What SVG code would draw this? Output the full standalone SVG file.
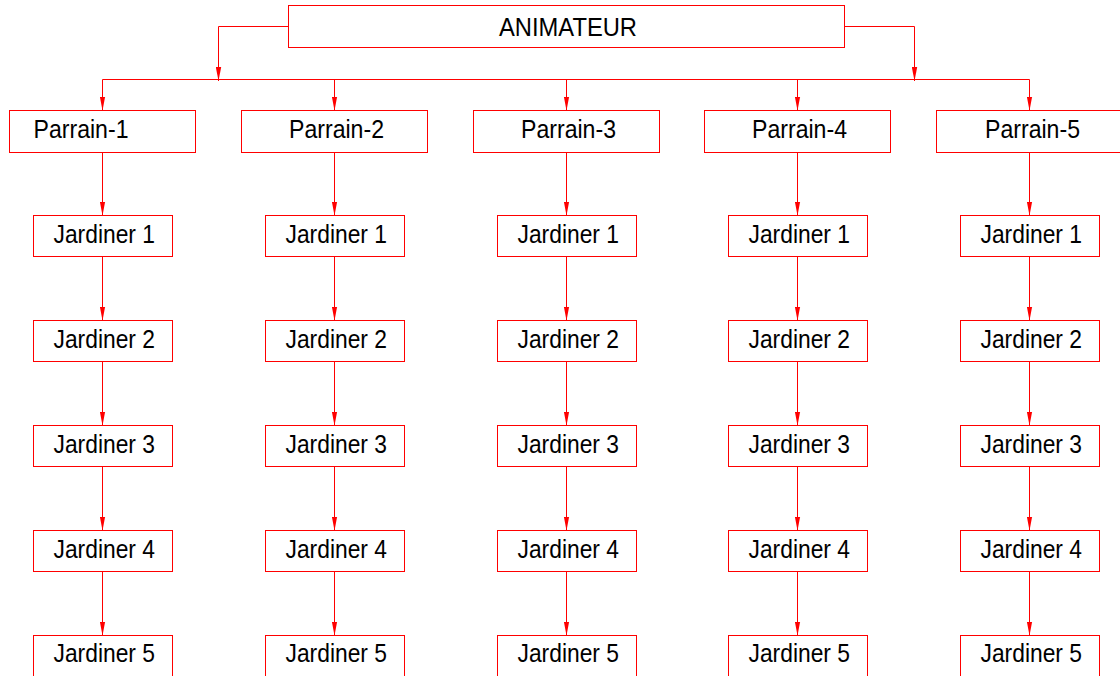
<svg xmlns="http://www.w3.org/2000/svg" width="1120" height="676" viewBox="0 0 1120 676">
<style>
.box{fill:#fff;stroke:#ff0000;stroke-width:1}
.ln{fill:none;stroke:#ff0000;stroke-width:1}
.arr{fill:none;stroke:#ff0000;stroke-width:1;marker-end:url(#ah)}
text{font-family:"Liberation Sans",Arial,sans-serif;font-size:25.5px;fill:#000}
</style>
<defs>
<marker id="ah" markerUnits="userSpaceOnUse" markerWidth="14" markerHeight="6" viewBox="0 0 13 5" refX="13" refY="2.5" orient="auto">
<path d="M0,0 L13,2.5 L0,5 z" fill="#ff0000"/>
</marker>
</defs>
<rect width="1120" height="676" fill="#fff"/>
<g id="connectors">
<polyline class="arr" points="288.5,26.5 218.5,26.5 218.5,81"/>
<polyline class="arr" points="844.5,26.5 914.5,26.5 914.5,81"/>
<line class="ln" x1="102.5" y1="79.5" x2="1029.5" y2="79.5"/>
<line class="arr" x1="102.5" y1="79.5" x2="102.5" y2="110.5"/>
<line class="arr" x1="334.5" y1="79.5" x2="334.5" y2="110.5"/>
<line class="arr" x1="566.5" y1="79.5" x2="566.5" y2="110.5"/>
<line class="arr" x1="797.5" y1="79.5" x2="797.5" y2="110.5"/>
<line class="arr" x1="1029.5" y1="79.5" x2="1029.5" y2="110.5"/>
<line class="arr" x1="102.5" y1="152.5" x2="102.5" y2="215.5"/>
<line class="arr" x1="102.5" y1="256.5" x2="102.5" y2="320.5"/>
<line class="arr" x1="102.5" y1="361.5" x2="102.5" y2="425.5"/>
<line class="arr" x1="102.5" y1="466.5" x2="102.5" y2="530.5"/>
<line class="arr" x1="102.5" y1="571.5" x2="102.5" y2="635.5"/>
<line class="arr" x1="334.5" y1="152.5" x2="334.5" y2="215.5"/>
<line class="arr" x1="334.5" y1="256.5" x2="334.5" y2="320.5"/>
<line class="arr" x1="334.5" y1="361.5" x2="334.5" y2="425.5"/>
<line class="arr" x1="334.5" y1="466.5" x2="334.5" y2="530.5"/>
<line class="arr" x1="334.5" y1="571.5" x2="334.5" y2="635.5"/>
<line class="arr" x1="566.5" y1="152.5" x2="566.5" y2="215.5"/>
<line class="arr" x1="566.5" y1="256.5" x2="566.5" y2="320.5"/>
<line class="arr" x1="566.5" y1="361.5" x2="566.5" y2="425.5"/>
<line class="arr" x1="566.5" y1="466.5" x2="566.5" y2="530.5"/>
<line class="arr" x1="566.5" y1="571.5" x2="566.5" y2="635.5"/>
<line class="arr" x1="797.5" y1="152.5" x2="797.5" y2="215.5"/>
<line class="arr" x1="797.5" y1="256.5" x2="797.5" y2="320.5"/>
<line class="arr" x1="797.5" y1="361.5" x2="797.5" y2="425.5"/>
<line class="arr" x1="797.5" y1="466.5" x2="797.5" y2="530.5"/>
<line class="arr" x1="797.5" y1="571.5" x2="797.5" y2="635.5"/>
<line class="arr" x1="1029.5" y1="152.5" x2="1029.5" y2="215.5"/>
<line class="arr" x1="1029.5" y1="256.5" x2="1029.5" y2="320.5"/>
<line class="arr" x1="1029.5" y1="361.5" x2="1029.5" y2="425.5"/>
<line class="arr" x1="1029.5" y1="466.5" x2="1029.5" y2="530.5"/>
<line class="arr" x1="1029.5" y1="571.5" x2="1029.5" y2="635.5"/>
</g>
<g id="animateur"><rect class="box" x="288.5" y="5.5" width="556" height="42"/><text x="499" y="36" textLength="138" lengthAdjust="spacingAndGlyphs">ANIMATEUR</text></g>
<g id="parrain1"><rect class="box" x="9.5" y="110.5" width="186" height="42"/><text x="33.5" y="138.3" textLength="95" lengthAdjust="spacingAndGlyphs">Parrain-1</text></g>
<g id="parrain2"><rect class="box" x="241.5" y="110.5" width="186" height="42"/><text x="289" y="138.3" textLength="95" lengthAdjust="spacingAndGlyphs">Parrain-2</text></g>
<g id="parrain3"><rect class="box" x="473.5" y="110.5" width="186" height="42"/><text x="521" y="138.3" textLength="95" lengthAdjust="spacingAndGlyphs">Parrain-3</text></g>
<g id="parrain4"><rect class="box" x="704.5" y="110.5" width="186" height="42"/><text x="752" y="138.3" textLength="95" lengthAdjust="spacingAndGlyphs">Parrain-4</text></g>
<g id="parrain5"><rect class="box" x="936.5" y="110.5" width="186" height="42"/><text x="985" y="138.3" textLength="95" lengthAdjust="spacingAndGlyphs">Parrain-5</text></g>
<g id="c1j1"><rect class="box" x="33.5" y="215.5" width="139" height="41"/><text x="53.5" y="243" textLength="101.5" lengthAdjust="spacingAndGlyphs">Jardiner 1</text></g>
<g id="c1j2"><rect class="box" x="33.5" y="320.5" width="139" height="41"/><text x="53.5" y="348" textLength="101.5" lengthAdjust="spacingAndGlyphs">Jardiner 2</text></g>
<g id="c1j3"><rect class="box" x="33.5" y="425.5" width="139" height="41"/><text x="53.5" y="453" textLength="101.5" lengthAdjust="spacingAndGlyphs">Jardiner 3</text></g>
<g id="c1j4"><rect class="box" x="33.5" y="530.5" width="139" height="41"/><text x="53.5" y="558" textLength="101.5" lengthAdjust="spacingAndGlyphs">Jardiner 4</text></g>
<g id="c1j5"><rect class="box" x="33.5" y="635.5" width="139" height="41"/><text x="53.5" y="662" textLength="101.5" lengthAdjust="spacingAndGlyphs">Jardiner 5</text></g>
<g id="c2j1"><rect class="box" x="265.5" y="215.5" width="139" height="41"/><text x="285.5" y="243" textLength="101.5" lengthAdjust="spacingAndGlyphs">Jardiner 1</text></g>
<g id="c2j2"><rect class="box" x="265.5" y="320.5" width="139" height="41"/><text x="285.5" y="348" textLength="101.5" lengthAdjust="spacingAndGlyphs">Jardiner 2</text></g>
<g id="c2j3"><rect class="box" x="265.5" y="425.5" width="139" height="41"/><text x="285.5" y="453" textLength="101.5" lengthAdjust="spacingAndGlyphs">Jardiner 3</text></g>
<g id="c2j4"><rect class="box" x="265.5" y="530.5" width="139" height="41"/><text x="285.5" y="558" textLength="101.5" lengthAdjust="spacingAndGlyphs">Jardiner 4</text></g>
<g id="c2j5"><rect class="box" x="265.5" y="635.5" width="139" height="41"/><text x="285.5" y="662" textLength="101.5" lengthAdjust="spacingAndGlyphs">Jardiner 5</text></g>
<g id="c3j1"><rect class="box" x="497.5" y="215.5" width="139" height="41"/><text x="517.5" y="243" textLength="101.5" lengthAdjust="spacingAndGlyphs">Jardiner 1</text></g>
<g id="c3j2"><rect class="box" x="497.5" y="320.5" width="139" height="41"/><text x="517.5" y="348" textLength="101.5" lengthAdjust="spacingAndGlyphs">Jardiner 2</text></g>
<g id="c3j3"><rect class="box" x="497.5" y="425.5" width="139" height="41"/><text x="517.5" y="453" textLength="101.5" lengthAdjust="spacingAndGlyphs">Jardiner 3</text></g>
<g id="c3j4"><rect class="box" x="497.5" y="530.5" width="139" height="41"/><text x="517.5" y="558" textLength="101.5" lengthAdjust="spacingAndGlyphs">Jardiner 4</text></g>
<g id="c3j5"><rect class="box" x="497.5" y="635.5" width="139" height="41"/><text x="517.5" y="662" textLength="101.5" lengthAdjust="spacingAndGlyphs">Jardiner 5</text></g>
<g id="c4j1"><rect class="box" x="728.5" y="215.5" width="139" height="41"/><text x="748.5" y="243" textLength="101.5" lengthAdjust="spacingAndGlyphs">Jardiner 1</text></g>
<g id="c4j2"><rect class="box" x="728.5" y="320.5" width="139" height="41"/><text x="748.5" y="348" textLength="101.5" lengthAdjust="spacingAndGlyphs">Jardiner 2</text></g>
<g id="c4j3"><rect class="box" x="728.5" y="425.5" width="139" height="41"/><text x="748.5" y="453" textLength="101.5" lengthAdjust="spacingAndGlyphs">Jardiner 3</text></g>
<g id="c4j4"><rect class="box" x="728.5" y="530.5" width="139" height="41"/><text x="748.5" y="558" textLength="101.5" lengthAdjust="spacingAndGlyphs">Jardiner 4</text></g>
<g id="c4j5"><rect class="box" x="728.5" y="635.5" width="139" height="41"/><text x="748.5" y="662" textLength="101.5" lengthAdjust="spacingAndGlyphs">Jardiner 5</text></g>
<g id="c5j1"><rect class="box" x="960.5" y="215.5" width="139" height="41"/><text x="980.5" y="243" textLength="101.5" lengthAdjust="spacingAndGlyphs">Jardiner 1</text></g>
<g id="c5j2"><rect class="box" x="960.5" y="320.5" width="139" height="41"/><text x="980.5" y="348" textLength="101.5" lengthAdjust="spacingAndGlyphs">Jardiner 2</text></g>
<g id="c5j3"><rect class="box" x="960.5" y="425.5" width="139" height="41"/><text x="980.5" y="453" textLength="101.5" lengthAdjust="spacingAndGlyphs">Jardiner 3</text></g>
<g id="c5j4"><rect class="box" x="960.5" y="530.5" width="139" height="41"/><text x="980.5" y="558" textLength="101.5" lengthAdjust="spacingAndGlyphs">Jardiner 4</text></g>
<g id="c5j5"><rect class="box" x="960.5" y="635.5" width="139" height="41"/><text x="980.5" y="662" textLength="101.5" lengthAdjust="spacingAndGlyphs">Jardiner 5</text></g>
</svg>
